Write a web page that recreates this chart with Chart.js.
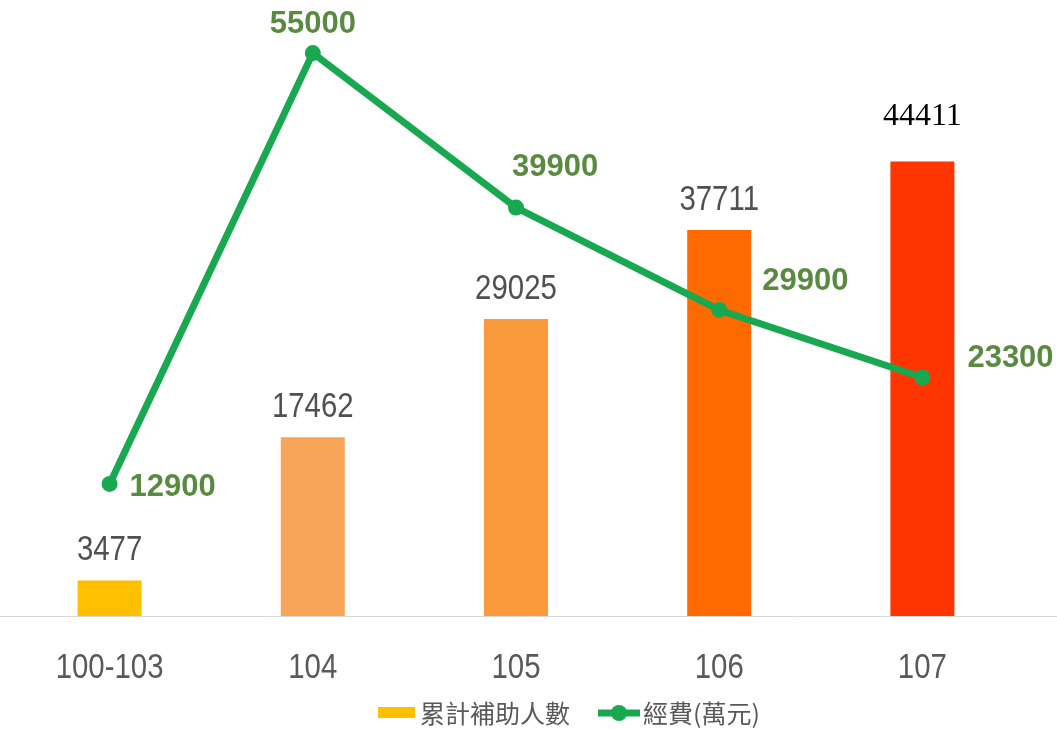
<!DOCTYPE html>
<html>
<head>
<meta charset="utf-8">
<script src="https://cdn.jsdelivr.net/npm/chart.js@4/dist/chart.umd.min.js"></script>
<style>
  html, body { margin: 0; padding: 0; background: #fff; }
  #wrap { width: 1057px; height: 729px; position: relative; }
</style>
</head>
<body>
<div id="wrap"><canvas id="barChart" width="1057" height="729"></canvas></div>
<script>
// data
var categories = ['100-103', '104', '105', '106', '107'];
var peopleCounts = [3477, 17462, 29025, 37711, 44411];
var fundingValues = [12900, 55000, 39900, 29900, 23300];
var seriesNames = ['累計補助人數', '經費(萬元)'];

var barColors = ['#FFC000', '#F8A55A', '#F99B3C', '#FF6A00', '#FF3500'];
var lineColor = '#18A84F';
var sans = '"Liberation Sans", Arial, sans-serif';

// label offsets next to the line points [dx, dy, align]
var lineLabelPos = [[20, 3, 'left'], [0, -29, 'center'], [-4, -40, 'left'], [43, -28, 'left'], [45, -19, 'left']];

// condensed text (no narrow font installed)
function narrowText(ctx, txt, x, y, sx) {
  ctx.save();
  ctx.translate(x, y);
  ctx.scale(sx, 1);
  ctx.fillText(txt, 0, 0);
  ctx.restore();
}

var labelsPlugin = {
  id: 'labelsPlugin',
  beforeDatasetsDraw: function (chart) {
    var ctx = chart.ctx;
    var y = Math.round(chart.chartArea.bottom) + 0.5;
    ctx.save();
    ctx.strokeStyle = '#d9d9d9';
    ctx.lineWidth = 1;
    ctx.beginPath();
    ctx.moveTo(0, y);
    ctx.lineTo(chart.width, y);
    ctx.stroke();
    ctx.restore();
  },
  afterDraw: function (chart) {
    var ctx = chart.ctx;
    var xScale = chart.scales.x;
    ctx.save();
    // category labels
    ctx.font = '35px ' + sans;
    ctx.fillStyle = '#595959';
    ctx.textAlign = 'center';
    ctx.textBaseline = 'middle';
    categories.forEach(function (c, i) {
      narrowText(ctx, c, xScale.getPixelForTick(i), 668, 0.84);
    });
    // bar values
    var barMeta = chart.getDatasetMeta(1);
    barMeta.data.forEach(function (bar, i) {
      ctx.textAlign = 'center';
      ctx.textBaseline = 'alphabetic';
      if (i === peopleCounts.length - 1) {
        ctx.font = '32px "Liberation Serif", "Times New Roman", serif';
        ctx.fillStyle = '#000';
        ctx.fillText(peopleCounts[i], bar.x, bar.y - 36);
      } else {
        ctx.font = '35px ' + sans;
        ctx.fillStyle = '#505050';
        narrowText(ctx, peopleCounts[i], bar.x, bar.y - 20, 0.84);
      }
    });
    // line values
    var lineMeta = chart.getDatasetMeta(0);
    ctx.font = 'bold 31px ' + sans;
    ctx.fillStyle = '#5a8a3f';
    ctx.textBaseline = 'middle';
    lineMeta.data.forEach(function (pt, i) {
      var p = lineLabelPos[i];
      ctx.textAlign = p[2];
      ctx.fillText(fundingValues[i], pt.x + p[0], pt.y + p[1]);
    });
    // legend
    var ly = 713;
    ctx.fillStyle = barColors[0];
    ctx.fillRect(378, ly - 6, 37, 11);
    ctx.font = '25px "Noto Sans CJK TC", "Noto Sans", sans-serif';
    ctx.fillStyle = '#595959';
    ctx.textAlign = 'left';
    ctx.textBaseline = 'middle';
    ctx.fillText(seriesNames[0], 420, ly);
    ctx.strokeStyle = lineColor;
    ctx.lineWidth = 7;
    ctx.beginPath();
    ctx.moveTo(598, ly);
    ctx.lineTo(640, ly);
    ctx.stroke();
    ctx.fillStyle = lineColor;
    ctx.beginPath();
    ctx.arc(619, ly, 8, 0, Math.PI * 2);
    ctx.fill();
    ctx.fillStyle = '#595959';
    ctx.fillText(seriesNames[1], 643, ly);
    ctx.restore();
  }
};

var chart = new Chart(document.getElementById('barChart').getContext('2d'), {
  data: {
    labels: categories,
    datasets: [{
      type: 'line',
      label: seriesNames[1],
      data: fundingValues,
      borderColor: lineColor,
      backgroundColor: lineColor,
      borderWidth: 7,
      pointRadius: 8,
      pointHoverRadius: 8,
      pointBackgroundColor: lineColor,
      pointBorderWidth: 0,
      tension: 0,
      clip: false,
      order: 0
    }, {
      type: 'bar',
      label: seriesNames[0],
      data: peopleCounts,
      backgroundColor: barColors,
      barPercentage: 0.315,
      categoryPercentage: 1,
      order: 1
    }]
  },
  options: {
    responsive: false,
    animation: false,
    layout: { padding: { left: 8, right: 33, top: 0, bottom: 0 } },
    plugins: {
      legend: { display: false },
      tooltip: { enabled: false }
    },
    scales: {
      x: {
        grid: { display: false, drawTicks: false },
        border: { display: false },
        ticks: { display: false },
        afterFit: function (scale) { scale.height = 113; }
      },
      y: {
        display: false,
        min: 0,
        max: 59400
      }
    }
  },
  plugins: [labelsPlugin]
});
</script>
</body>
</html>
